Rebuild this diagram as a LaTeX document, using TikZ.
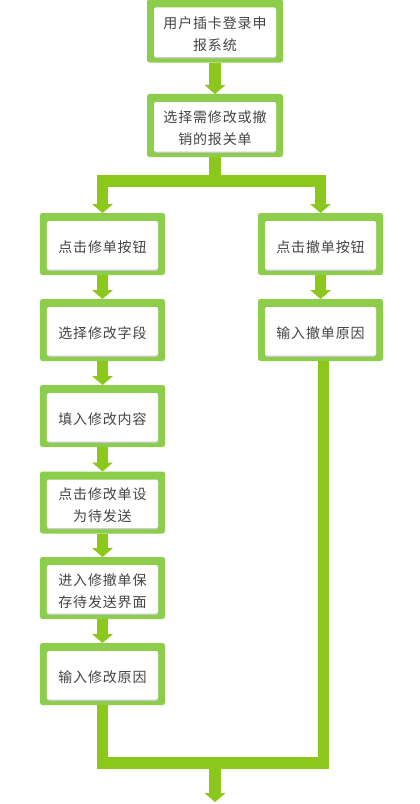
\documentclass[tikz,border=0pt]{standalone}
\usepackage{fontspec}
\newfontfamily\cjk[LetterSpace=6]{Noto Sans CJK SC}
\usetikzlibrary{arrows.meta}
\definecolor{boxgreen}{HTML}{8DCD4C}
\definecolor{arrowgreen}{HTML}{8CC81C}
\definecolor{txt}{HTML}{444444}
\tikzset{
  boxtext/.style={align=center, text=txt, inner sep=0pt, yshift=-3bp,
    font={\cjk\fontsize{14bp}{22bp}\selectfont}},
  stepbox/.style={fill=boxgreen, rounded corners=2.5bp,
    minimum width=125bp, minimum height=62bp, inner sep=0pt, outer sep=0pt,
    label={[boxtext]center:{#1}},
    path picture={
      \fill[black!22, rounded corners=2bp]
        ([xshift=7bp,yshift=4.2bp]path picture bounding box.south west) rectangle
        ([xshift=-7bp,yshift=-9bp]path picture bounding box.north east);
      \fill[white, rounded corners=2bp]
        ([xshift=7bp,yshift=5.5bp]path picture bounding box.south west) rectangle
        ([xshift=-7bp,yshift=-8bp]path picture bounding box.north east);}},
  widebox/.style={stepbox={#1}, minimum width=136bp, minimum height=63bp},
  tip/.tip={Triangle[width=21bp, length=9bp, line width=0pt]},
  flow/.style={draw=arrowgreen, line width=11.5bp, line join=miter},
  flowarrow/.style={flow, -tip}
}
\begin{document}
\begin{tikzpicture}[x=1bp, y=-1bp]
\useasboundingbox (0,0) rectangle (419,804);
\node[widebox={用户插卡登录申\\报系统}] (n1) at (215,31) {};
\node[widebox={选择需修改或撤\\销的报关单}] (n2) at (215,125.5) {};
\node[stepbox={点击修单按钮}] (l1) at (102.5,244) {};
\node[stepbox={选择修改字段}] (l2) at (102.5,330) {};
\node[stepbox={填入修改内容}] (l3) at (102.5,416) {};
\node[stepbox={点击修改单设\\为待发送}] (l4) at (102.5,502.5) {};
\node[stepbox={进入修撤单保\\存待发送界面}] (l5) at (102.5,588) {};
\node[stepbox={输入修改原因}] (l6) at (102.5,674) {};
\node[stepbox={点击撤单按钮}] (r1) at (320.5,244) {};
\node[stepbox={输入撤单原因}] (r2) at (320.5,330) {};
\coordinate (split) at (215,181);
\coordinate (merge) at (215,763);
\coordinate (end) at (215,802);
\draw[flowarrow] (n1) -- (n2);
\draw[flow] (n2.south) -- (split);
\draw[flow, tip-tip] (l1.north) |- (split) -| (r1.north);
\draw[flowarrow] (l1) -- (l2);
\draw[flowarrow] (l2) -- (l3);
\draw[flowarrow] (l3) -- (l4);
\draw[flowarrow] (l4) -- (l5);
\draw[flowarrow] (l5) -- (l6);
\draw[flowarrow] (r1) -- (r2);
\draw[flow] (l6.south) |- (merge) -| ([xshift=3bp]r2.south);
\draw[flowarrow] (merge) -- (end);
\end{tikzpicture}
\end{document}
